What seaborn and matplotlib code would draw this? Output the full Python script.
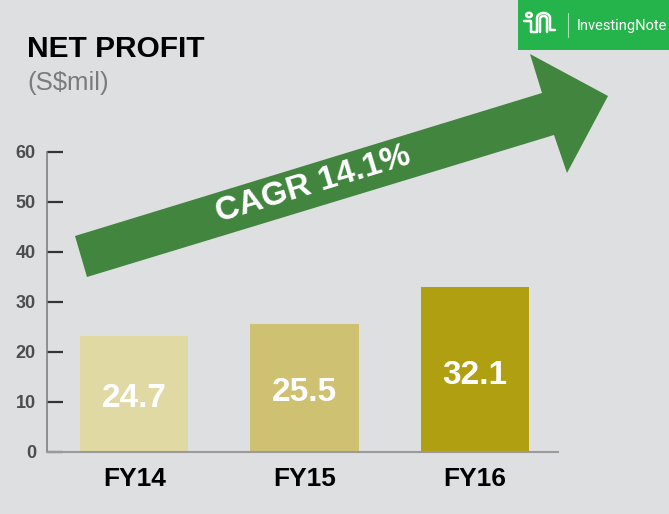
import numpy as np
import pandas as pd
import matplotlib
matplotlib.use("Agg")
import matplotlib.pyplot as plt
from matplotlib.patches import Polygon, Rectangle, Circle
from matplotlib.lines import Line2D
import seaborn as sns

# data
years = ["FY14", "FY15", "FY16"]
bar_heights = [23.2, 25.6, 33.0]
value_labels = ["24.7", "25.5", "32.1"]
bar_colors = ["#e0d9a4", "#cfc172", "#b09f10"]
y_ticks = [0, 10, 20, 30, 40, 50, 60]

df = pd.DataFrame({"Year": years, "Profit": bar_heights})

bg = "#dedfe1"
sns.set_theme(style="white")
plt.rcParams["font.family"] = ["Liberation Sans", "DejaVu Sans"]

W, H = 669, 514
fig = plt.figure(figsize=(W / 100, H / 100), dpi=100, facecolor=bg)


def px(x, y):
    # pixel position -> figure fraction
    return x / W, (H - y) / H


ax = fig.add_axes([47 / W, 62 / H, (558 - 47) / W, 300 / H])
ax.set_facecolor(bg)

sns.barplot(data=df, x="Year", y="Profit", hue="Year", palette=bar_colors,
            width=0.635, legend=False, ax=ax, saturation=1,
            edgecolor="none", linewidth=0)

ax.set_xlim(-0.512, 2.488)
ax.set_ylim(0, 60)
ax.set_yticks(y_ticks)
ax.set_xlabel("")
ax.set_ylabel("")

for side in ["top", "right"]:
    ax.spines[side].set_visible(False)
ax.spines["left"].set_color("#7f7f7f")
ax.spines["left"].set_linewidth(1.2)
ax.spines["bottom"].set_color("#9a9a9a")
ax.spines["bottom"].set_linewidth(1.5)

ax.tick_params(axis="y", direction="in", length=11.5, width=1.6, color="#333333",
               pad=8, labelsize=13, labelcolor="#4d4d4d", left=True)
ax.tick_params(axis="x", length=0, pad=11, labelsize=19)
for t in ax.get_yticklabels():
    t.set_fontweight("bold")
for t in ax.get_xticklabels():
    t.set_fontweight("bold")
    t.set_color("black")

# value labels inside the bars
for i, (h, lab) in enumerate(zip(bar_heights, value_labels)):
    ax.text(i, h * 0.465, lab, ha="center", va="center", color="white",
            fontsize=24, fontweight="bold")

# title
fig.text(*px(27, 57), "NET PROFIT", fontsize=21.5, fontweight="bold",
         color="black", va="baseline", ha="left")
fig.text(*px(27, 90), "(S$mil)", fontsize=18.5, color="#7b7b7b",
         va="baseline", ha="left")

# CAGR arrow
arrow_pts = [(75, 236), (542, 93), (530, 54), (608, 96), (567, 173),
             (554, 135), (87, 277)]
fig.patches.append(Polygon([px(x, y) for x, y in arrow_pts], closed=True,
                           transform=fig.transFigure, facecolor="#41853f",
                           edgecolor="none", zorder=3))
fig.text(*px(313, 185), "CAGR 14.1%", fontsize=24, fontweight="bold",
         color="white", rotation=16.9, rotation_mode="anchor",
         ha="center", va="center", zorder=4)

# InvestingNote badge
x0, y0 = px(518, 50)
fig.patches.append(Rectangle((x0, y0), 151 / W, 50 / H, transform=fig.transFigure,
                             facecolor="#25b34b", edgecolor="none", zorder=5))
fig.lines.append(Line2D(*zip(px(568, 13), px(568, 37)), transform=fig.transFigure,
                        color="white", alpha=0.6, lw=0.8, zorder=6))
fig.text(*px(577, 30), "InvestingNote", fontsize=10.5, color="white",
         family=["Roboto", "DejaVu Sans"], va="baseline", ha="left", zorder=6)

# logo glyph
cx, cy = px(529, 15)
fig.patches.append(Circle((cx, cy), 2.8 / W, transform=fig.transFigure,
                          facecolor="none", edgecolor="white", lw=1.8, zorder=6))
ang = np.linspace(np.pi, 0, 20)
outer = [(524, 21), (531, 21), (531, 32), (537, 32)]
outer += [(543.5 + 6.5 * np.cos(a), 18 - 5 * np.sin(a)) for a in ang]
outer += [(550, 30), (555, 30)]
inner = [(540, 32)] + [(543.5 + 3.5 * np.cos(a), 19 - 3 * np.sin(a)) for a in ang] + [(547, 32)]
for path in [outer, inner]:
    pts = [px(x, y) for x, y in path]
    fig.lines.append(Line2D([p[0] for p in pts], [p[1] for p in pts],
                            transform=fig.transFigure, color="white", lw=1.8,
                            zorder=6))

fig.savefig("out.png", dpi=100, facecolor=bg)
